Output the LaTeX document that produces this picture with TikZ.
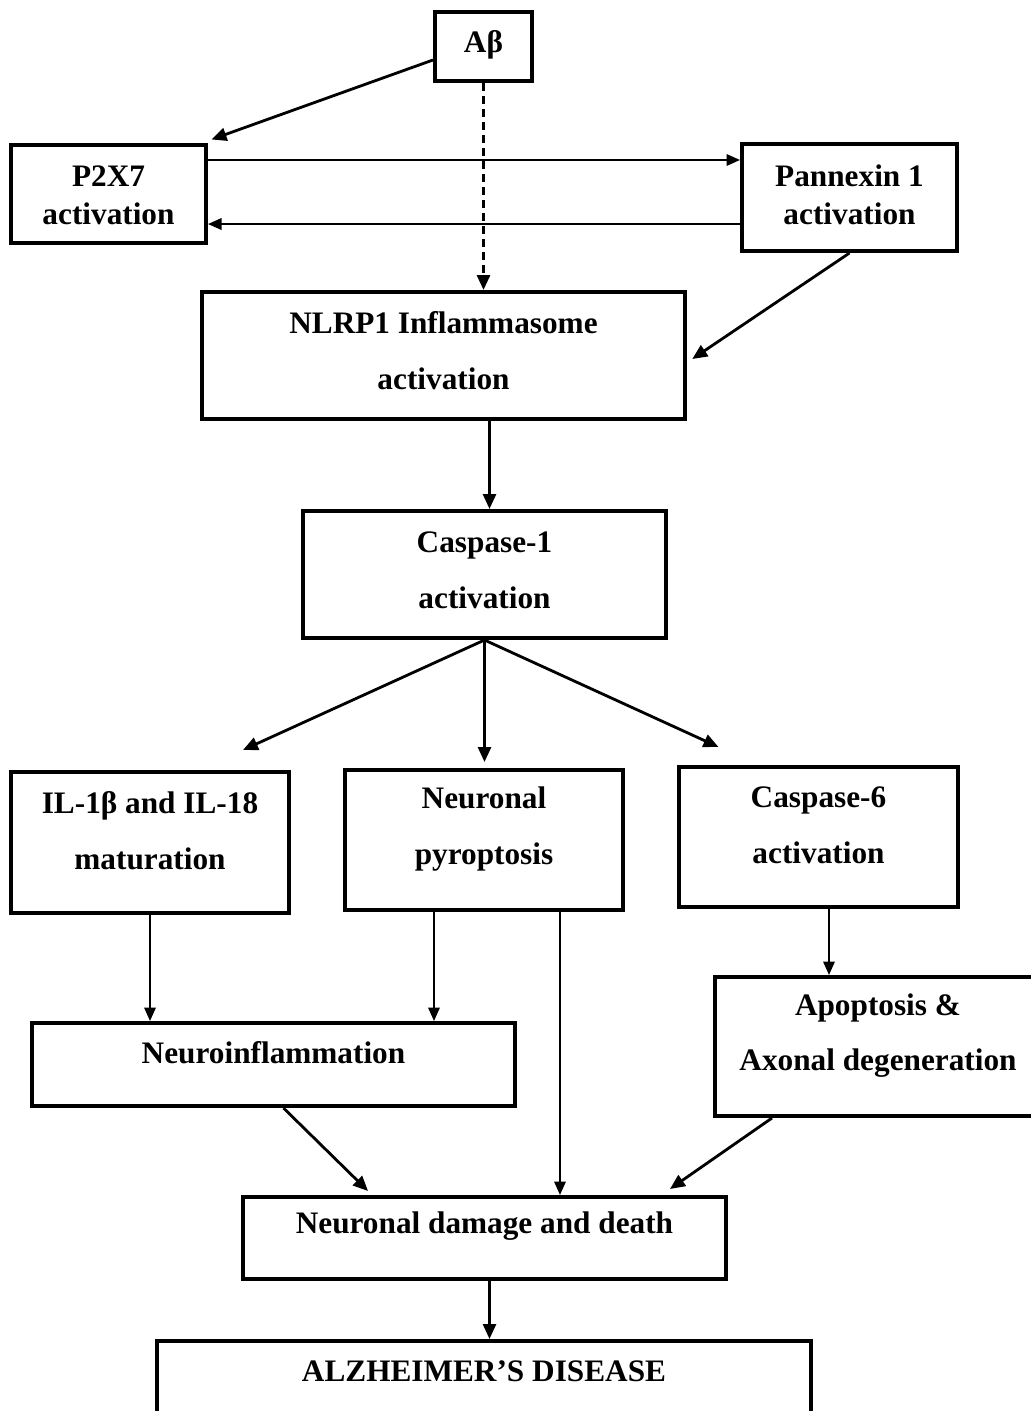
\documentclass[tikz,border=0pt]{standalone}
\usepackage{fontspec}
\setmainfont{Liberation Serif}
\usetikzlibrary{arrows.meta,positioning}

\begin{document}
\begin{tikzpicture}[
x=0.02cm, y=-0.02cm,
font=\fontsize{17.8}{31.75}\selectfont\bfseries,
block/.style={draw, line width=2.3pt, inner sep=0pt},
txt/.style={align=center, inner sep=0pt},
tight/.style={font=\fontsize{17.8}{21.5}\selectfont\bfseries},
flow/.style={line width=1.6pt, -{Triangle[length=0.3cm,width=0.26cm]}},
thinflow/.style={line width=1.1pt, -{Triangle[length=0.27cm,width=0.23cm]}},
dashflow/.style={line width=1.7pt, dash pattern=on 0.16cm off 0.1cm, -{Triangle[length=0.3cm,width=0.26cm]}}
]
    % Page
    \useasboundingbox (0,0) rectangle (1031,1411);
    \clip (0,0) rectangle (1031,1411);

    % Boxes
    \node[block, minimum width=1.94cm, minimum height=1.38cm] (abeta) at (483.5,46.5) {};
    \node[block, minimum width=3.9cm, minimum height=1.96cm] (p2x7) at (108.5,194) {};
    \node[block, minimum width=4.3cm, minimum height=2.14cm] (pan) at (849.5,197.5) {};
    \node[block, minimum width=9.66cm, minimum height=2.54cm] (nlrp) at (443.5,355.5) {};
    \node[block, minimum width=7.26cm, minimum height=2.54cm] (casp1) at (484.5,574.5) {};
    \node[block, minimum width=5.56cm, minimum height=2.82cm] (il) at (150,842.5) {};
    \node[block, minimum width=5.56cm, minimum height=2.8cm] (pyro) at (484,840) {};
    \node[block, minimum width=5.58cm, minimum height=2.8cm] (casp6) at (818.5,837) {};
    \node[block, minimum width=6.52cm, minimum height=2.78cm] (apo) at (878,1046.5) {};
    \node[block, minimum width=9.66cm, minimum height=1.66cm] (neuro) at (273.5,1064.5) {};
    \node[block, minimum width=9.66cm, minimum height=1.64cm] (ndd) at (484.5,1238) {};
    \node[block, minimum width=13.08cm, minimum height=1.96cm] (ad) at (484,1390) {};

    % Texts
    \node[txt] (abetaT) at (483.5,45) {Aβ};
    \node[txt, tight] (p2x7T) at (108.5,195) {P2X7\\activation};
    \node[txt, tight] (panT) at (849.5,194.5) {Pannexin 1\\activation};
    \node[txt] (nlrpT) at (443.5,351) {NLRP1 Inflammasome\\activation};
    \node[txt] (casp1T) at (484.5,570) {Caspase-1\\activation};
    \node[txt] (ilT) at (150,831) {IL-1β and IL-18\\maturation};
    \node[txt] (pyroT) at (484,829) {Neuronal\\pyroptosis};
    \node[txt] (casp6T) at (818.5,825.5) {Caspase-6\\activation};
    \node[txt] (apoT) at (878,1035.5) {Apoptosis \&\\Axonal degeneration};
    \node[txt] (neuroT) at (273.5,1053) {Neuroinflammation};
    \node[txt] (nddT) at (484.5,1226) {Neuronal damage and death};
    \node[txt] (adT) at (484,1371) {ALZHEIMER’S DISEASE};

    % Helper points
    \coordinate (toPan) at ([yshift=-0.34cm]p2x7.north east);
    \coordinate (toP2x7) at ([yshift=0.42cm]p2x7.south east);
    \coordinate (toCasp1) at ([xshift=0.1cm]casp1.north);
    \coordinate (pyroL) at ([xshift=-1cm]pyro.south);
    \coordinate (pyroR) at ([xshift=1.52cm]pyro.south);
    \coordinate (casp6D) at ([xshift=0.21cm]casp6.south);
    \coordinate (nddD) at ([xshift=0.1cm]ndd.south);

    % Arrows
    \draw[flow] ([yshift=-0.27cm]abeta.west) -- ([xshift=2pt,yshift=2pt]p2x7.north east);
    \draw[dashflow] (abeta.south) -- (abeta.south |- nlrp.north);
    \draw[thinflow] (toPan) -- (toPan -| pan.west);
    \draw[thinflow] (toP2x7 -| pan.west) -- (toP2x7);
    \draw[flow] (pan.south) -- ([xshift=3pt,yshift=-2pt]nlrp.east);
    \draw[flow] (toCasp1 |- nlrp.south) -- (toCasp1);

    \draw[flow] (casp1.south) -- ([xshift=1.86cm,yshift=0.4cm]il.north);
    \draw[flow] (casp1.south) -- ([yshift=0.12cm]casp1.south |- pyro.north);
    \draw[flow] (casp1.south) -- ([xshift=-2cm,yshift=0.36cm]casp6.north);

    \draw[thinflow] (il.south) -- (il.south |- neuro.north);
    \draw[thinflow] (pyroL) -- (pyroL |- neuro.north);
    \draw[thinflow] (pyroR) -- (pyroR |- ndd.north);
    \draw[thinflow] (casp6D) -- (casp6D |- apo.north);

    \draw[flow] ([xshift=0.2cm]neuro.south) -- ([xshift=-2.33cm,yshift=0.08cm]ndd.north);
    \draw[flow] ([xshift=1.18cm]apo.south west) -- ([xshift=3.71cm,yshift=0.12cm]ndd.north);
    \draw[flow] (nddD) -- (nddD |- ad.north);

\end{tikzpicture}
\end{document}
